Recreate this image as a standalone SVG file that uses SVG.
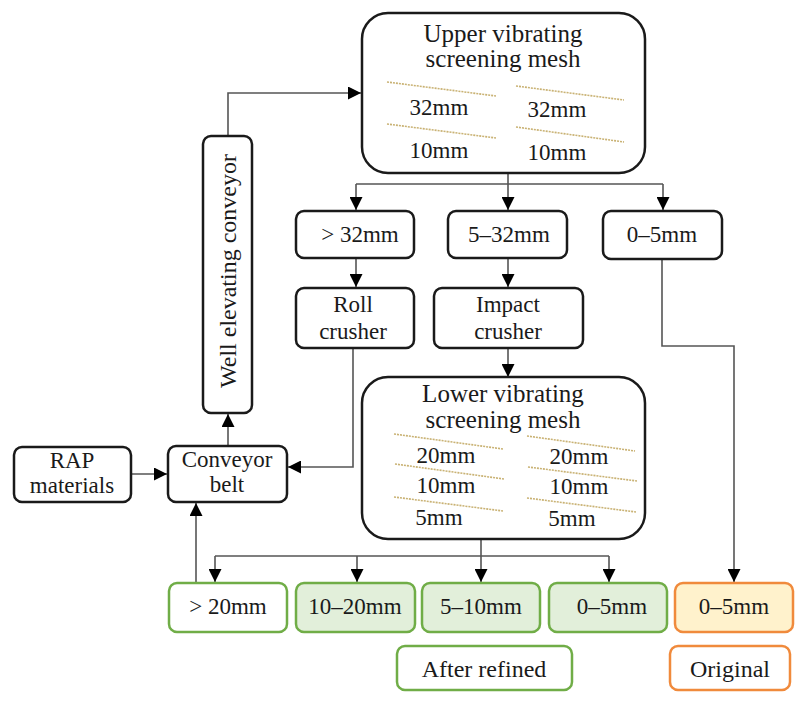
<svg xmlns="http://www.w3.org/2000/svg" width="810" height="705" viewBox="0 0 810 705">
<defs>
<marker id="ah" markerUnits="userSpaceOnUse" markerWidth="13" markerHeight="13" viewBox="0 0 13 13" refX="13" refY="6.5" orient="auto">
<path d="M0,0 L13,6.5 L0,13 z" fill="#000"/>
</marker>
<style>
.box{fill:#fff;stroke:#1a1a1a;stroke-width:2.5}
.g{fill:#e2efda;stroke:#70ad47;stroke-width:2.5}
.gw{fill:#fff;stroke:#70ad47;stroke-width:2.5}
.o{fill:#fff2cc;stroke:#f08a3c;stroke-width:2.5}
.ow{fill:#fff;stroke:#f08a3c;stroke-width:2.5}
text{font-family:"Times New Roman",Times,"Liberation Serif","Noto Serif","DejaVu Serif",serif;font-size:23px;fill:#1a1a1a;text-anchor:middle}
.tt{font-size:25px}
.c{fill:none;stroke:#555;stroke-width:1.6;marker-end:url(#ah)}
.cn{fill:none;stroke:#555;stroke-width:1.6}
.d{stroke:#c9b274;stroke-width:1.6;stroke-dasharray:2 1}
</style>
</defs>
<rect width="810" height="705" fill="#fff"/>

<g id="connectors">
<polyline class="c" points="228,135 228,93 361,93"/>
<polyline class="cn" points="508,173 508,184"/>
<polyline class="cn" points="356,184 663,184"/>
<polyline class="c" points="356,184 356,210"/>
<polyline class="c" points="508,184 508,210"/>
<polyline class="c" points="663,184 663,210"/>
<polyline class="c" points="356,258 356,287"/>
<polyline class="c" points="508,258 508,287"/>
<polyline class="c" points="508,348 508,377"/>
<polyline class="c" points="353,348 353,467 288,467"/>
<polyline class="c" points="662,259 662,346 734,346 734,582"/>
<polyline class="c" points="228,445 228,414"/>
<polyline class="c" points="131,474 167,474"/>
<polyline class="c" points="196,583 196,503"/>
<polyline class="cn" points="481,539 481,556"/>
<polyline class="cn" points="215,556 609,556"/>
<polyline class="c" points="215,556 215,582"/>
<polyline class="c" points="357,556 357,582"/>
<polyline class="c" points="481,556 481,582"/>
<polyline class="c" points="609,556 609,582"/>
</g>

<g id="upper-mesh">
<rect class="box" x="362" y="13" width="283" height="160" rx="26"/>
<text class="tt" x="503" y="42">Upper vibrating</text>
<text class="tt" x="503" y="67">screening mesh</text>
<line class="d" x1="387" y1="82" x2="496" y2="96"/>
<line class="d" x1="387" y1="124" x2="496" y2="138"/>
<line class="d" x1="516" y1="86" x2="624" y2="100"/>
<line class="d" x1="516" y1="127" x2="624" y2="142"/>
<text x="439" y="115">32mm</text>
<text x="557" y="117">32mm</text>
<text x="439" y="158">10mm</text>
<text x="557" y="160">10mm</text>
</g>

<g id="well-conveyor">
<rect class="box" x="203" y="136" width="49" height="277" rx="8"/>
<text style="font-size:24px" transform="translate(236,271) rotate(-90)" x="0" y="0">Well elevating conveyor</text>
</g>

<g id="gt32">
<rect class="box" x="296" y="211" width="118" height="47" rx="8"/>
<text x="360" y="242">&gt; 32mm</text>
</g>
<g id="r5-32">
<rect class="box" x="448" y="211" width="119" height="47" rx="8"/>
<text x="509" y="242">5–32mm</text>
</g>
<g id="r0-5-top">
<rect class="box" x="603" y="211" width="119" height="48" rx="8"/>
<text x="662" y="242">0–5mm</text>
</g>

<g id="roll-crusher">
<rect class="box" x="296" y="288" width="118" height="60" rx="8"/>
<text x="353" y="312">Roll</text>
<text x="353" y="339">crusher</text>
</g>
<g id="impact-crusher">
<rect class="box" x="434" y="288" width="149" height="60" rx="8"/>
<text x="508" y="312">Impact</text>
<text x="508" y="339">crusher</text>
</g>

<g id="lower-mesh">
<rect class="box" x="362" y="377" width="283" height="162" rx="26"/>
<text class="tt" x="503" y="402">Lower vibrating</text>
<text class="tt" x="503" y="428">screening mesh</text>
<line class="d" x1="394" y1="434" x2="503" y2="449"/>
<line class="d" x1="395" y1="464" x2="504" y2="479"/>
<line class="d" x1="394" y1="497" x2="503" y2="511"/>
<line class="d" x1="527" y1="436" x2="635" y2="451"/>
<line class="d" x1="528" y1="467" x2="637" y2="481"/>
<line class="d" x1="527" y1="498" x2="636" y2="512"/>
<text x="446" y="463">20mm</text>
<text x="446" y="493">10mm</text>
<text x="439" y="525">5mm</text>
<text x="579" y="464">20mm</text>
<text x="579" y="494">10mm</text>
<text x="572" y="526">5mm</text>
</g>

<g id="rap">
<rect class="box" x="14" y="447" width="117" height="55" rx="8"/>
<text x="72" y="468">RAP</text>
<text x="72" y="493">materials</text>
</g>
<g id="conveyor-belt">
<rect class="box" x="168" y="446" width="119" height="56" rx="8"/>
<text x="227" y="467">Conveyor</text>
<text x="227" y="492">belt</text>
</g>

<g id="b-gt20">
<rect class="gw" x="169" y="583" width="118" height="49" rx="8"/>
<text x="228" y="614">&gt; 20mm</text>
</g>
<g id="b10-20">
<rect class="g" x="296" y="583" width="119" height="49" rx="8"/>
<text x="355" y="614">10–20mm</text>
</g>
<g id="b5-10">
<rect class="g" x="422" y="583" width="118" height="49" rx="8"/>
<text x="481" y="614">5–10mm</text>
</g>
<g id="b0-5">
<rect class="g" x="549" y="583" width="118" height="49" rx="8"/>
<text x="612" y="614">0–5mm</text>
</g>
<g id="b0-5-orig">
<rect class="o" x="675" y="583" width="118" height="49" rx="8"/>
<text x="734" y="614">0–5mm</text>
</g>
<g id="after-refined">
<rect class="gw" x="397" y="646" width="175" height="44" rx="8"/>
<text style="font-size:24px" x="484" y="677">After refined</text>
</g>
<g id="original">
<rect class="ow" x="670" y="646" width="120" height="44" rx="8"/>
<text style="font-size:24px" x="730" y="677">Original</text>
</g>
</svg>
